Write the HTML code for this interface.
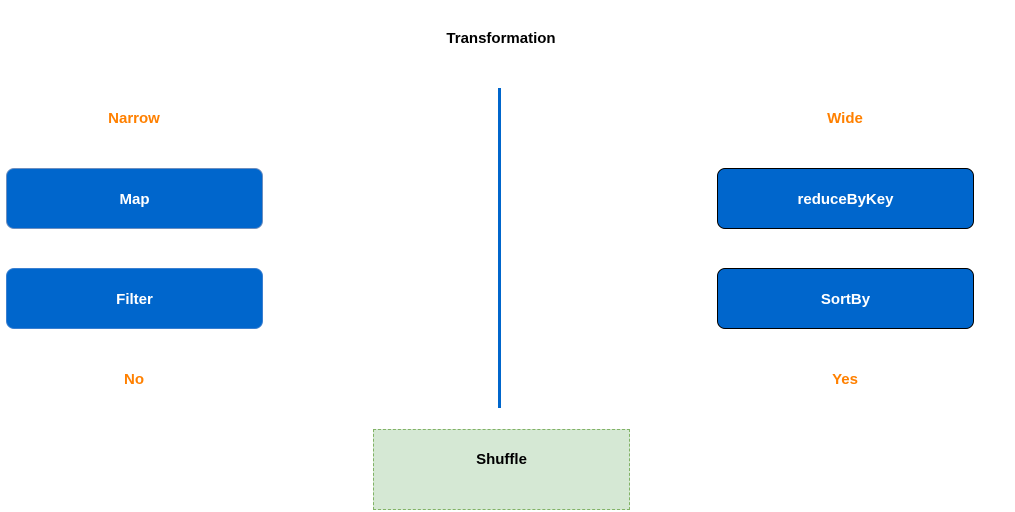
<!DOCTYPE html>
<html><head><style>
body{margin:0;width:1015px;height:512px;background:#fff;position:relative;overflow:hidden;font-family:"Liberation Sans",sans-serif;font-weight:bold;font-size:15px}
.t{position:absolute;text-align:center;line-height:20px}
.o{color:#ff8000}
.b{position:absolute;background:#0066cc;color:#fff;border-radius:8px;display:flex;align-items:center;justify-content:center;box-sizing:border-box;padding-top:1px}
</style></head><body>
<div class="t" style="left:401px;top:29px;width:200px;color:#000">Transformation</div>
<div class="t o" style="left:34px;top:109px;width:200px">Narrow</div>
<div class="t o" style="left:745px;top:109px;width:200px">Wide</div>
<div class="t o" style="left:34px;top:370px;width:200px">No</div>
<div class="t o" style="left:745px;top:370px;width:200px">Yes</div>
<div class="b" style="left:6px;top:168px;width:257px;height:61px;border:1px solid #6c8ebf">Map</div>
<div class="b" style="left:6px;top:268px;width:257px;height:61px;border:1px solid #3a7fd0">Filter</div>
<div class="b" style="left:717px;top:168px;width:257px;height:61px;border:1px solid #000">reduceByKey</div>
<div class="b" style="left:717px;top:268px;width:257px;height:61px;border:1px solid #000">SortBy</div>
<div style="position:absolute;left:498px;top:88px;width:3px;height:320px;background:#0066cc"></div>
<div style="position:absolute;left:373px;top:429px;width:257px;height:81px;box-sizing:border-box;background:#d5e8d4;border:1px dashed #82b366;text-align:center;padding-top:20px;line-height:20px;color:#000">Shuffle</div>
</body></html>
